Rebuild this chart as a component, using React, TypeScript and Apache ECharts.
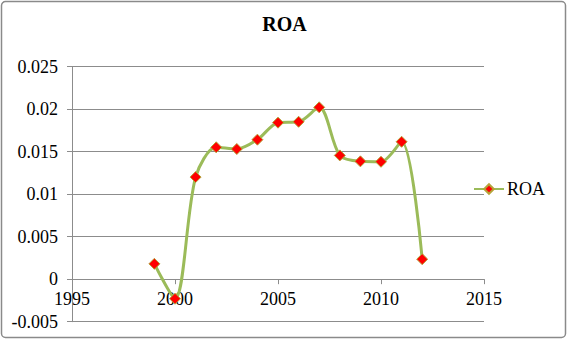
import React, { useEffect, useRef } from "react";
import * as echarts from "echarts";

const years = [1999, 2000, 2001, 2002, 2003, 2004, 2005, 2006, 2007, 2008, 2009, 2010, 2011, 2012];
const roa = [0.0018, -0.0023, 0.012, 0.0155, 0.0153, 0.0164, 0.0184, 0.0185, 0.0202, 0.01455, 0.01385, 0.0138, 0.01615, 0.00235];
const seriesName = "ROA";
const titleText = "ROA";

const FONT = "Liberation Serif, DejaVu Serif, serif";

const GRID_TOP = 66.5;
const GRID_BOTTOM = 22.3;
const CHART_H = 344;
const Y_MIN = -0.005;
const Y_MAX = 0.025;

export default function App() {
  const ref = useRef<HTMLDivElement>(null);
  useEffect(() => {
    if (!ref.current) return;
    const chart = echarts.init(ref.current, null, { renderer: "svg" });
    const plotH = CHART_H - GRID_TOP - GRID_BOTTOM;
    const zeroOffset = -plotH * (0 - Y_MIN) / (Y_MAX - Y_MIN);
    chart.setOption({
      animation: false,
      backgroundColor: "#ffffff",
      textStyle: { fontFamily: FONT },
      title: {
        text: titleText,
        left: "center",
        top: 14,
        padding: 0,
        textStyle: { fontFamily: FONT, fontSize: 20, fontWeight: "bold", color: "#000" },
      },
      legend: {
        data: [seriesName],
        left: 473,
        top: 180,
        itemWidth: 30,
        itemHeight: 12,
        itemGap: 2,
        padding: 0,
        textStyle: { fontFamily: FONT, fontSize: 18, color: "#000", padding: [0, 0, 0, -2] },
      },
      grid: {
        left: 72,
        right: 85,
        top: GRID_TOP,
        bottom: GRID_BOTTOM,
        containLabel: false,
        outerBoundsMode: "none",
      },
      xAxis: {
        type: "value",
        min: 1995,
        max: 2015,
        interval: 5,
        position: "bottom",
        offset: zeroOffset,
        axisLine: { onZero: false, lineStyle: { color: "#8c8c8c", width: 1 } },
        axisTick: { show: true, length: 5, lineStyle: { color: "#8c8c8c" } },
        splitLine: { show: false },
        axisLabel: {
          fontFamily: FONT,
          fontSize: 18,
          color: "#000",
          margin: 11,
          formatter: (v: number) => String(Math.round(v)),
        },
      },
      yAxis: {
        type: "value",
        min: Y_MIN,
        max: Y_MAX,
        interval: 0.005,
        axisLine: { show: true, lineStyle: { color: "#8c8c8c", width: 1 } },
        axisTick: { show: true, length: 5, lineStyle: { color: "#8c8c8c" } },
        splitLine: { show: true, lineStyle: { color: "#8c8c8c", width: 1 } },
        axisLabel: {
          fontFamily: FONT,
          fontSize: 18,
          color: "#000",
          margin: 14,
          formatter: (v: number) => String(parseFloat(v.toFixed(4))),
        },
      },
      series: [
        {
          name: seriesName,
          type: "line",
          smooth: 0.3,
          data: years.map((y, i) => [y, roa[i]]),
          symbol: "diamond",
          symbolSize: 11,
          lineStyle: { color: "#9bbb59", width: 3 },
          itemStyle: { color: "#ff0000", borderColor: "#b5a33a", borderWidth: 1 },
        },
      ],
      graphic: [
        {
          type: "rect",
          shape: { x: 1.5, y: 1.5, width: 564, height: 336, r: 4 },
          style: { fill: "none", stroke: "#8a8a8a", lineWidth: 1.5 },
          silent: true,
        },
      ],
    });
    return () => chart.dispose();
  }, []);
  return (
    <div
      ref={ref}
      style={{ position: "absolute", left: 0, top: 0, width: 569, height: 344, fontFamily: "Liberation Serif" }}
    />
  );
}
